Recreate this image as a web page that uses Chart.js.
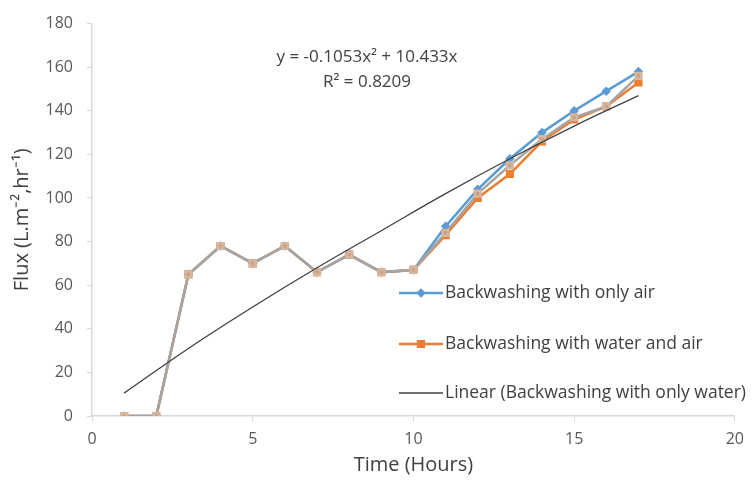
<!DOCTYPE html>
<html>
<head>
<meta charset="utf-8">
<script src="https://cdn.jsdelivr.net/npm/chart.js@4/dist/chart.umd.min.js"></script>
<style>
  html, body { margin: 0; padding: 0; background: #fff; }
  #wrap { width: 753px; height: 483px; }
</style>
</head>
<body>
<div id="wrap"><canvas id="fluxChart" width="753" height="483"></canvas></div>
<script>
// Données
const hours = [1, 2, 3, 4, 5, 6, 7, 8, 9, 10, 11, 12, 13, 14, 15, 16, 17];
const onlyAir = [0, 0, 65, 78, 70, 78, 66, 74, 66, 67, 87, 104, 118, 130, 140, 149, 158];
const waterAndAir = [0, 0, 65, 78, 70, 78, 66, 74, 66, 67, 83, 100, 111, 126, 136, 142, 153];
const onlyWater = [0, 0, 65, 78, 70, 78, 66, 74, 66, 67, 84, 102, 115, 127, 137, 142, 156];
const trendHours = [1, 3, 5, 7, 9, 11, 13, 15, 17];
const trendValues = [10.5, 31, 50, 68, 85, 102, 118, 133, 147];
const xTicks = [0, 5, 10, 15, 20];
const yTicks = [0, 20, 40, 60, 80, 100, 120, 140, 160, 180];
const equationText = ['y = -0.1053x² + 10.433x', 'R² = 0.8209'];

const pairs = (xs, ys) => xs.map((x, i) => ({ x: x, y: ys[i] }));
const FONT = '"Open Sans", sans-serif';

// Légende dessinée dans la zone du graphique
const insideLegend = {
    id: 'insideLegend',
    afterDraw(chart) {
        const ctx = chart.ctx;
        const rows = [
            { ds: 0, y: 293 },
            { ds: 1, y: 344 },
            { ds: 3, y: 393 }
        ];
        ctx.save();
        ctx.font = '17.5px ' + FONT;
        ctx.textBaseline = 'middle';
        rows.forEach(r => {
            const ds = chart.data.datasets[r.ds];
            ctx.strokeStyle = ds.borderColor;
            ctx.lineWidth = ds.borderWidth;
            ctx.beginPath();
            ctx.moveTo(399, r.y);
            ctx.lineTo(443, r.y);
            ctx.stroke();
            if (ds.pointRadius > 0) {
                ctx.fillStyle = ds.pointBackgroundColor;
                ctx.strokeStyle = ds.pointBorderColor;
                Chart.helpers.drawPoint(ctx, {
                    pointStyle: ds.pointStyle,
                    radius: ds.pointRadius,
                    rotation: 0,
                    borderWidth: 1
                }, 421, r.y);
            }
            ctx.fillStyle = '#404040';
            ctx.fillText(ds.label, 445, r.y);
        });
        // équation de la courbe de tendance
        ctx.textAlign = 'center';
        ctx.font = '17px ' + FONT;
        ctx.fillText(equationText[0], 367, 57);
        ctx.fillText(equationText[1], 367, 82);
        ctx.restore();
    }
};

const ctx = document.getElementById('fluxChart').getContext('2d');
const myChart = new Chart(ctx, {
    type: 'scatter',
    data: {
        datasets: [{
            label: 'Backwashing with only air',
            data: pairs(hours, onlyAir),
            showLine: true,
            borderColor: '#5b9bd5',
            backgroundColor: '#5b9bd5',
            pointBackgroundColor: '#5b9bd5',
            pointBorderColor: '#5b9bd5',
            borderWidth: 2.5,
            pointStyle: 'rectRot',
            pointRadius: 3,
            order: 3
        }, {
            label: 'Backwashing with water and air',
            data: pairs(hours, waterAndAir),
            showLine: true,
            borderColor: '#ed7d31',
            backgroundColor: '#ed7d31',
            pointBackgroundColor: '#ed7d31',
            pointBorderColor: '#ed7d31',
            borderWidth: 2.5,
            pointStyle: 'rect',
            pointRadius: 4,
            order: 2
        }, {
            label: 'Backwashing with only water',
            data: pairs(hours, onlyWater),
            showLine: true,
            borderColor: '#a5a5a5',
            backgroundColor: '#c9a184',
            pointBackgroundColor: '#c9a184',
            pointBorderColor: '#d6b79e',
            borderWidth: 2.5,
            pointStyle: 'rect',
            pointRadius: 4,
            order: 1
        }, {
            label: 'Linear (Backwashing with only water)',
            data: pairs(trendHours, trendValues),
            showLine: true,
            borderColor: '#404040',
            borderWidth: 1.3,
            pointRadius: 0,
            tension: 0.4,
            order: 0
        }]
    },
    options: {
        responsive: false,
        animation: false,
        layout: { padding: { top: 18, right: 18, left: 0, bottom: 0 } },
        plugins: {
            legend: { display: false },
            tooltip: { enabled: false }
        },
        scales: {
            x: {
                type: 'linear',
                min: 0,
                max: 20,
                afterBuildTicks: s => { s.ticks = xTicks.map(v => ({ value: v })); },
                afterFit: s => { s.height = 67; },
                grid: { drawOnChartArea: false, color: '#d9d9d9', tickLength: 5 },
                border: { color: '#d9d9d9', width: 1.5 },
                ticks: { color: '#595959', font: { size: 16, family: FONT }, padding: 9 },
                title: {
                    display: true,
                    text: 'Time (Hours)',
                    color: '#404040',
                    font: { size: 20, family: FONT },
                    padding: { top: 0, bottom: 6 }
                }
            },
            y: {
                min: 0,
                max: 180,
                afterBuildTicks: s => { s.ticks = yTicks.map(v => ({ value: v })); },
                afterFit: s => { s.width = 92; },
                grid: { drawOnChartArea: false, color: '#d9d9d9', tickLength: 5 },
                border: { color: '#d9d9d9', width: 1.5 },
                ticks: { color: '#595959', font: { size: 16, family: FONT }, padding: 14 },
                title: {
                    display: true,
                    text: 'Flux (L.m⁻²,hr⁻¹)',
                    color: '#404040',
                    font: { size: 20, family: FONT },
                    padding: { top: 10, bottom: 0 }
                }
            }
        }
    },
    plugins: [insideLegend]
});
</script>
</body>
</html>
